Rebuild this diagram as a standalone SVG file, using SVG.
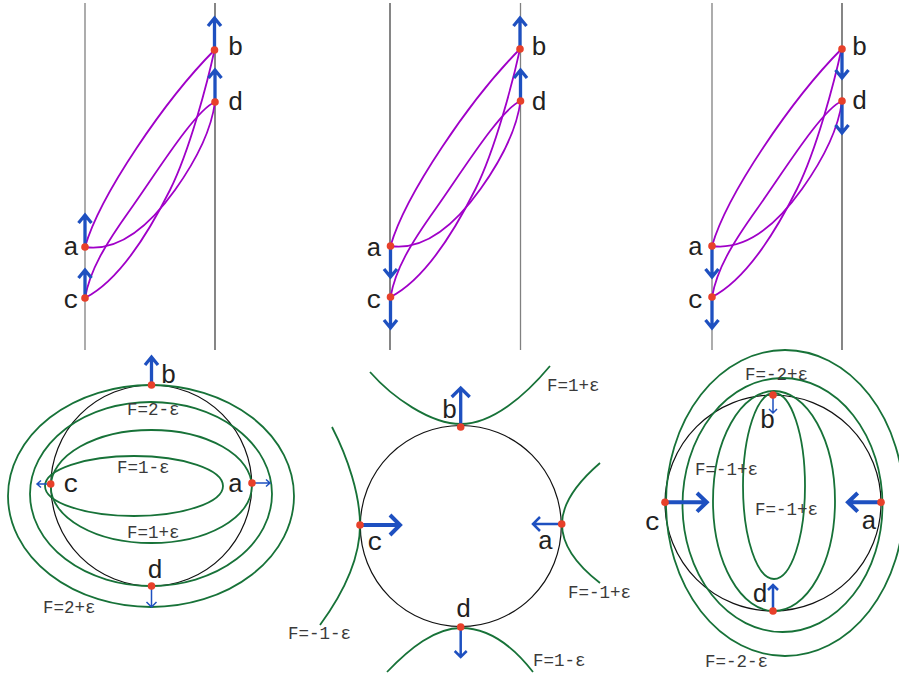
<svg xmlns="http://www.w3.org/2000/svg" xmlns:xlink="http://www.w3.org/1999/xlink" width="899" height="677" viewBox="0 0 899 677">
<style>
.bg{fill:#ffffff}
.vg{stroke:#808080;stroke-width:1.3;fill:none}
.vk{stroke:#222222;stroke-width:1.1;fill:none}
.pc{stroke:#a000c8;stroke-width:1.8;fill:none}
.gc{stroke:#177238;stroke-width:1.8;fill:none}
.cir{stroke:#111111;stroke-width:1.2;fill:none}
.dot{fill:#e8402a}
.ar{stroke:#1e50c0;fill:none;stroke-linejoin:miter;stroke-linecap:butt}
.a1{stroke-width:1.5}
.a2{stroke-width:2.5}
.a3{stroke-width:3.3}
.a4{stroke-width:4}
.lt{font-family:"Liberation Mono","DejaVu Sans Mono",monospace;font-size:26px;fill:#222;text-anchor:middle}
.ft{font-family:"Liberation Mono","DejaVu Sans Mono",monospace;font-size:17.5px;fill:#3a3a3a}
</style>
<defs>
<g id="curves">
<path class="pc" d="M85,247 C100,195 165,100 214.5,50"/>
<path class="pc" d="M85,247 C120,252 150,225 175,190 S212,125 215,102"/>
<path class="pc" d="M85,298 C120,280 150,230 170,190 S208,80 214.5,50"/>
<path class="pc" d="M85,298 C90,270 105,245 130,210 S195,110 215,102"/>
</g>
</defs>
<rect class="bg" x="0" y="0" width="899" height="677"/>

<!-- Panel 1 -->
<g id="panel1">
<line class="vg" x1="85" y1="3" x2="85" y2="350"/>
<line class="vk" x1="215" y1="3" x2="215" y2="350"/>
<g id="connectors1"><use xlink:href="#curves" href="#curves"/></g>
<g id="p1-b"><path class="ar a3" d="M214.5,50 V18 M208,26 L214.5,18 L221,26"/><circle class="dot" cx="214.5" cy="50" r="3.8"/><text class="lt" x="235.5" y="55">b</text></g>
<g id="p1-d"><path class="ar a3" d="M215,102 V70 M208.5,78 L215,70 L221.5,78"/><circle class="dot" cx="215" cy="102" r="3.8"/><text class="lt" x="235.5" y="110">d</text></g>
<g id="p1-a"><path class="ar a3" d="M85,247 V215 M78.5,223 L85,215 L91.5,223"/><circle class="dot" cx="85" cy="247" r="3.8"/><text class="lt" x="71" y="255">a</text></g>
<g id="p1-c"><path class="ar a3" d="M85,298 V270 M78.5,278 L85,270 L91.5,278"/><circle class="dot" cx="85" cy="298" r="3.8"/><text class="lt" x="71" y="308">c</text></g>
</g>

<!-- Panel 2 -->
<g id="panel2">
<line class="vk" x1="390" y1="3" x2="390" y2="350"/>
<line class="vg" x1="520.5" y1="3" x2="520.5" y2="350"/>
<g id="connectors2"><use xlink:href="#curves" href="#curves" transform="translate(305.5,-1)"/></g>
<g id="p2-b"><path class="ar a3" d="M520,49 V18 M513.5,26 L520,18 L526.5,26"/><circle class="dot" cx="520" cy="49" r="3.8"/><text class="lt" x="539" y="55">b</text></g>
<g id="p2-d"><path class="ar a3" d="M520.5,101 V70 M514,78 L520.5,70 L527,78"/><circle class="dot" cx="520.5" cy="101" r="3.8"/><text class="lt" x="539" y="110">d</text></g>
<g id="p2-a"><path class="ar a3" d="M390.5,246 V277 M384,269 L390.5,277 L397,269"/><circle class="dot" cx="390.5" cy="246" r="3.8"/><text class="lt" x="374" y="256">a</text></g>
<g id="p2-c"><path class="ar a3" d="M390.5,297 V328 M384,320 L390.5,328 L397,320"/><circle class="dot" cx="390.5" cy="297" r="3.8"/><text class="lt" x="374" y="308">c</text></g>
</g>

<!-- Panel 3 -->
<g id="panel3">
<line class="vg" x1="712" y1="3" x2="712" y2="350"/>
<line class="vk" x1="842" y1="3" x2="842" y2="350"/>
<g id="connectors3"><use xlink:href="#curves" href="#curves" transform="translate(627,-1)"/></g>
<g id="p3-b"><path class="ar a3" d="M842,49 V78 M835.5,70 L842,78 L848.5,70"/><circle class="dot" cx="842" cy="49" r="3.8"/><text class="lt" x="859.5" y="55">b</text></g>
<g id="p3-d"><path class="ar a3" d="M842,101 V133 M835.5,125 L842,133 L848.5,125"/><circle class="dot" cx="842" cy="101" r="3.8"/><text class="lt" x="859.5" y="109">d</text></g>
<g id="p3-a"><path class="ar a3" d="M712,246 V277 M705.5,269 L712,277 L718.5,269"/><circle class="dot" cx="712" cy="246" r="3.8"/><text class="lt" x="695.5" y="255">a</text></g>
<g id="p3-c"><path class="ar a3" d="M712,297 V328 M705.5,320 L712,328 L718.5,320"/><circle class="dot" cx="712" cy="297" r="3.8"/><text class="lt" x="695.5" y="308">c</text></g>
</g>

<!-- Panel 4 -->
<g id="panel4">
<g id="connectors4">
<circle class="cir" cx="151.3" cy="485.5" r="100.5"/>
<ellipse class="gc" cx="134" cy="486" rx="89" ry="30"/>
<ellipse class="gc" cx="151.3" cy="486.5" rx="100.5" ry="56.5"/>
<ellipse class="gc" cx="151" cy="494" rx="121" ry="92"/>
<ellipse class="gc" cx="151" cy="496" rx="143" ry="111"/>
</g>
<text class="ft" x="127" y="415">F=2-ε</text>
<text class="ft" x="117" y="473">F=1-ε</text>
<text class="ft" x="127" y="538">F=1+ε</text>
<text class="ft" x="43" y="613">F=2+ε</text>
<g id="p4-b"><path class="ar a3" d="M151.5,385 V357 M145,365 L151.5,357 L158,365"/><circle class="dot" cx="151.5" cy="385" r="3.8"/><text class="lt" x="168.5" y="383">b</text></g>
<g id="p4-d"><path class="ar a1" d="M151.5,586 V607 M146.5,602 L151.5,607 L156.5,602"/><circle class="dot" cx="151.5" cy="586" r="3.8"/><text class="lt" x="155" y="578">d</text></g>
<g id="p4-c"><path class="ar a1" d="M50.7,484 H37 M41,480.5 L37,484 L41,487.5"/><circle class="dot" cx="50.7" cy="484" r="3.8"/><text class="lt" x="71" y="492">c</text></g>
<g id="p4-a"><path class="ar a1" d="M252,483 H270 M266,479.5 L270,483 L266,486.5"/><circle class="dot" cx="252" cy="483" r="3.8"/><text class="lt" x="235.5" y="492">a</text></g>
</g>

<!-- Panel 5 -->
<g id="panel5">
<g id="connectors5">
<circle class="cir" cx="460.8" cy="526" r="100.5"/>
<path class="gc" d="M370,372 C392,397 430,424 461,424 C492,424 525,396 550,366"/>
<path class="gc" d="M387,672 C410,648 435,628 461,628 C487,628 512,645 533,672"/>
<path class="gc" d="M332,427 C348,458 360,495 360,525 C360,560 342,595 320,625"/>
<path class="gc" d="M600,463 C578,482 562,503 562,524 C562,547 578,566 600,583"/>
</g>
<text class="ft" x="547" y="391">F=1+ε</text>
<text class="ft" x="568" y="598">F=-1+ε</text>
<text class="ft" x="288" y="639">F=-1-ε</text>
<text class="ft" x="533" y="666">F=1-ε</text>
<g id="p5-b"><path class="ar a3" d="M460.7,427 V388 M451.7,397 L460.7,388 L469.7,397"/><circle class="dot" cx="460.7" cy="427" r="3.8"/><text class="lt" x="449.5" y="418">b</text></g>
<g id="p5-d"><path class="ar a2" d="M460.7,627 V657 M454.7,651 L460.7,657 L466.7,651"/><circle class="dot" cx="460.7" cy="627" r="3.8"/><text class="lt" x="463.5" y="617">d</text></g>
<g id="p5-c"><path class="ar a4" d="M360,525 H400 M390,515 L400,525 L390,535"/><circle class="dot" cx="360" cy="525" r="3.8"/><text class="lt" x="375" y="550">c</text></g>
<g id="p5-a"><path class="ar a2" d="M561.7,524 H533 M540,517 L533,524 L540,531"/><circle class="dot" cx="561.7" cy="524" r="3.8"/><text class="lt" x="545.5" y="549">a</text></g>
</g>

<!-- Panel 6 -->
<g id="panel6">
<g id="connectors6">
<circle class="cir" cx="773" cy="503" r="108"/>
<ellipse class="gc" cx="774" cy="486" rx="31" ry="93"/>
<ellipse class="gc" cx="774" cy="501" rx="61" ry="110"/>
<ellipse class="gc" cx="782.5" cy="505" rx="100" ry="127"/>
<ellipse class="gc" cx="785" cy="503" rx="119" ry="153"/>
</g>
<text class="ft" x="745" y="380">F=-2+ε</text>
<text class="ft" x="695" y="475">F=-1+ε</text>
<text class="ft" x="755" y="515">F=-1+ε</text>
<text class="ft" x="705" y="667">F=-2-ε</text>
<g id="p6-b"><path class="ar a1" d="M773,395 V413 M769,409 L773,413 L777,409"/><circle class="dot" cx="773" cy="395" r="3.8"/><text class="lt" x="767.5" y="428">b</text></g>
<g id="p6-d"><path class="ar a2" d="M773,611 V585 M768,590 L773,585 L778,590"/><circle class="dot" cx="773" cy="611" r="3.8"/><text class="lt" x="760" y="602">d</text></g>
<g id="p6-c"><path class="ar a4" d="M665,502.3 H706.7 M697,493 L706.7,502.3 L697,511.6"/><circle class="dot" cx="665" cy="502.3" r="3.8"/><text class="lt" x="652.5" y="530">c</text></g>
<g id="p6-a"><path class="ar a4" d="M881,502.3 H848 M857.7,493 L848,502.3 L857.7,511.6"/><circle class="dot" cx="881" cy="502.3" r="3.8"/><text class="lt" x="869" y="529">a</text></g>
</g>
</svg>
